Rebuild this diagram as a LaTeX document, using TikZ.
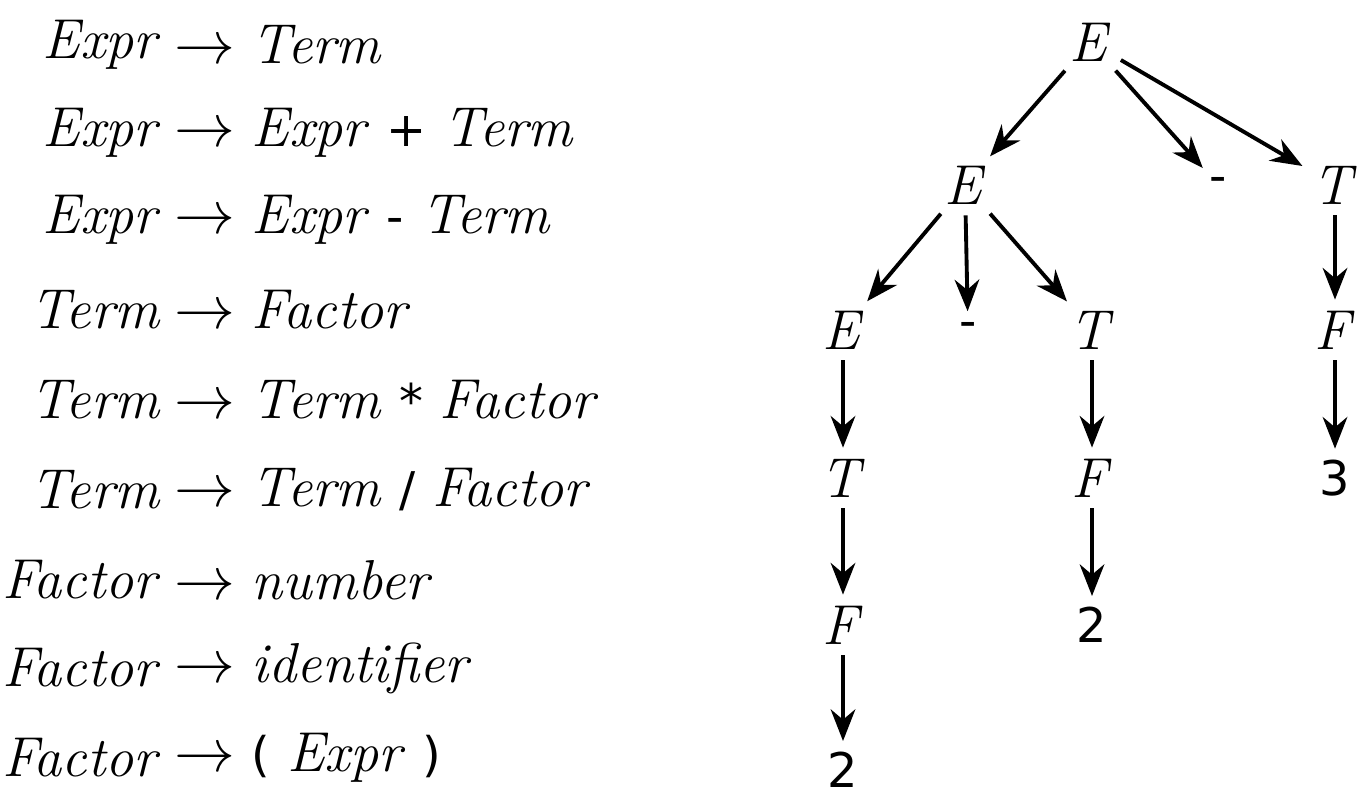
\documentclass[tikz,border=0pt]{standalone}
\usepackage{fontspec}
\usepackage{tikz}
\usetikzlibrary{arrows.meta}
\newfontfamily\tmfont{DejaVu Sans}[Scale=0.85]
\newcommand{\tm}[1]{{\tmfont #1}}
\newcommand{\nt}[1]{\textit{#1}}
\tikzset{
  sym/.style={font=\fontsize{16}{19}\selectfont, inner sep=1pt},
  lhs/.style={sym, anchor=east},
  rhs/.style={sym, anchor=west},
  edge/.style={line width=1.1pt, -{Stealth[length=9pt,width=7pt]}, shorten >=2pt, shorten <=2pt}
}
\begin{document}
\begin{tikzpicture}[x=0.01cm, y=-0.01cm]
    \useasboundingbox (0,0) rectangle (1367,808);
    % grammar
    \node[lhs] (l1) at (165,45) {\nt{Expr}};
    \node[rhs] (r1) at (170,45) {$\rightarrow$ \nt{Term}};
    \node[lhs] (l2) at (165,133) {\nt{Expr}};
    \node[rhs] (r2) at (170,133) {$\rightarrow$ \nt{Expr} \tm{+} \nt{Term}};
    \node[lhs] (l3) at (165,220) {\nt{Expr}};
    \node[rhs] (r3) at (170,220) {$\rightarrow$ \nt{Expr} \tm{-} \nt{Term}};
    \node[lhs] (l4) at (165,310) {\nt{Term}};
    \node[rhs] (r4) at (170,310) {$\rightarrow$ \nt{Factor}};
    \node[lhs] (l5) at (165,400) {\nt{Term}};
    \node[rhs] (r5) at (170,400) {$\rightarrow$ \nt{Term} \tm{*} \nt{Factor}};
    \node[lhs] (l6) at (165,490) {\nt{Term}};
    \node[rhs] (r6) at (170,490) {$\rightarrow$ \nt{Term} \tm{/} \nt{Factor}};
    \node[lhs] (l7) at (165,580) {\nt{Factor}};
    \node[rhs] (r7) at (170,580) {$\rightarrow$ \nt{number}};
    \node[lhs] (l8) at (165,668) {\nt{Factor}};
    \node[rhs] (r8) at (170,668) {$\rightarrow$ \nt{identifier}};
    \node[lhs] (l9) at (165,758) {\nt{Factor}};
    \node[rhs] (r9) at (170,758) {$\rightarrow$ \tm{(} \nt{Expr} \tm{)}};
    % parse tree
    \node[sym] (e0) at (1090,42) {\nt{E}};
    \node[sym] (e1) at (965,185) {\nt{E}};
    \node[sym] (m1) at (1218,185) {\tm{-}};
    \node[sym] (t1) at (1335,185) {\nt{T}};
    \node[sym] (e2) at (843,330) {\nt{E}};
    \node[sym] (m2) at (968,330) {\tm{-}};
    \node[sym] (t2) at (1092,330) {\nt{T}};
    \node[sym] (f3) at (1335,330) {\nt{F}};
    \node[sym] (t3) at (843,478) {\nt{T}};
    \node[sym] (f2) at (1092,478) {\nt{F}};
    \node[sym] (n3) at (1335,478) {\tm{3}};
    \node[sym] (f1) at (843,625) {\nt{F}};
    \node[sym] (n2b) at (1092,625) {\tm{2}};
    \node[sym] (n2a) at (843,770) {\tm{2}};
    \draw[edge] (e0) -- (e1);
    \draw[edge] (e0) -- (m1);
    \draw[edge] (e0) -- (t1);
    \draw[edge] (e1) -- (e2);
    \draw[edge] (e1) -- (m2);
    \draw[edge] (e1) -- (t2);
    \draw[edge] (t1) -- (f3);
    \draw[edge] (f3) -- (n3);
    \draw[edge] (e2) -- (t3);
    \draw[edge] (t3) -- (f1);
    \draw[edge] (f1) -- (n2a);
    \draw[edge] (t2) -- (f2);
    \draw[edge] (f2) -- (n2b);
\end{tikzpicture}
\end{document}
